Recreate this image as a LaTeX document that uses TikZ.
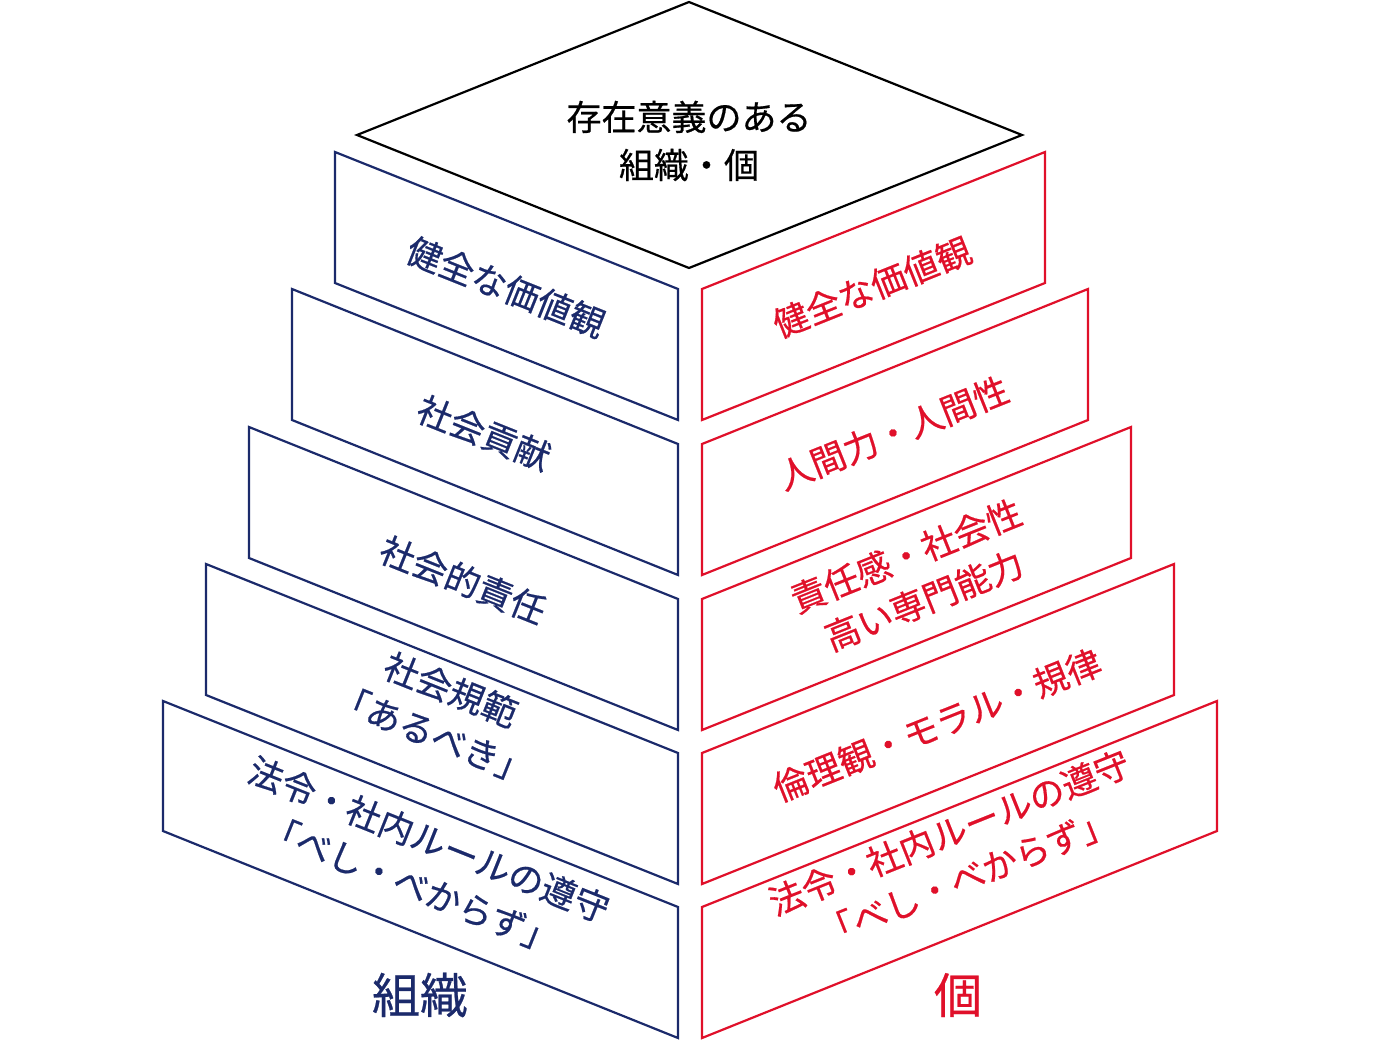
\documentclass[tikz,border=0pt]{standalone}
\usepackage{fontspec}
\setmainfont{Noto Sans CJK JP}
\newfontfamily\medf{Noto Sans CJK JP}[FakeBold=0.5]
\definecolor{navy}{HTML}{1B2A6B}
\definecolor{cred}{HTML}{E0102A}
\begin{document}
\begin{tikzpicture}[x=1pt,y=-1pt,
  lp/.style={draw=navy,line width=2.2pt,fill=white},
  rp/.style={draw=cred,line width=2.2pt,fill=white},
  lt/.style={text=navy,font=\medf\fontsize{35}{48}\selectfont,align=center,rotate=-21.8},
  rt/.style={text=cred,font=\medf\fontsize{35}{48}\selectfont,align=center,rotate=21.8}]
\useasboundingbox (0,0) rectangle (1380,1042);
% left panels (bottom first)
\draw[lp] (163,701) -- (678,907) -- (678,1038) -- (163,831) -- cycle;
\draw[lp] (206,564) -- (678,753) -- (678,884) -- (206,695) -- cycle;
\draw[lp] (249,427) -- (678,599) -- (678,730) -- (249,558) -- cycle;
\draw[lp] (292,289) -- (678,444) -- (678,575) -- (292,420) -- cycle;
\draw[lp] (335,152) -- (678,289) -- (678,420) -- (335,283) -- cycle;
% right panels
\draw[rp] (1217,701) -- (702,907) -- (702,1038) -- (1217,831) -- cycle;
\draw[rp] (1174,564) -- (702,753) -- (702,884) -- (1174,695) -- cycle;
\draw[rp] (1131,427) -- (702,599) -- (702,730) -- (1131,558) -- cycle;
\draw[rp] (1088,289) -- (702,444) -- (702,575) -- (1088,420) -- cycle;
\draw[rp] (1045,152) -- (702,289) -- (702,420) -- (1045,283) -- cycle;
% top diamond
\draw[line width=2.2pt,fill=white] (689,2) -- (1022,135) -- (689,268) -- (357,135) -- cycle;
\node[font=\medf\fontsize{35}{48}\selectfont,align=center] (top) at (689,141) {存在意義のある\\組織・個};
\node[lt] (l1) at (506,287) {健全な価値観};
\node[lt] (l2) at (484,433) {社会貢献};
\node[lt] (l3) at (463,580) {社会的責任};
\node[lt] (l4) at (442,712) {社会規範\\「あるべき」};
\node[lt] (l5) at (420,862) {法令・社内ルールの遵守\\「べし・べからず」};
\node[rt] (r1) at (872,287) {健全な価値観};
\node[rt] (r2) at (893,433) {人間力・人間性};
\node[rt] (r3) at (915,578) {責任感・社会性\\高い専門能力};
\node[rt] (r4) at (937,725) {倫理観・モラル・規律};
\node[rt] (r5) at (958,855) {法令・社内ルールの遵守\\「べし・べからず」};
\node[text=navy,font=\medf\fontsize{48}{54}\selectfont] (bl) at (420,995) {組織};
\node[text=cred,font=\medf\fontsize{48}{54}\selectfont] (br) at (958,995) {個};
\end{tikzpicture}
\end{document}
